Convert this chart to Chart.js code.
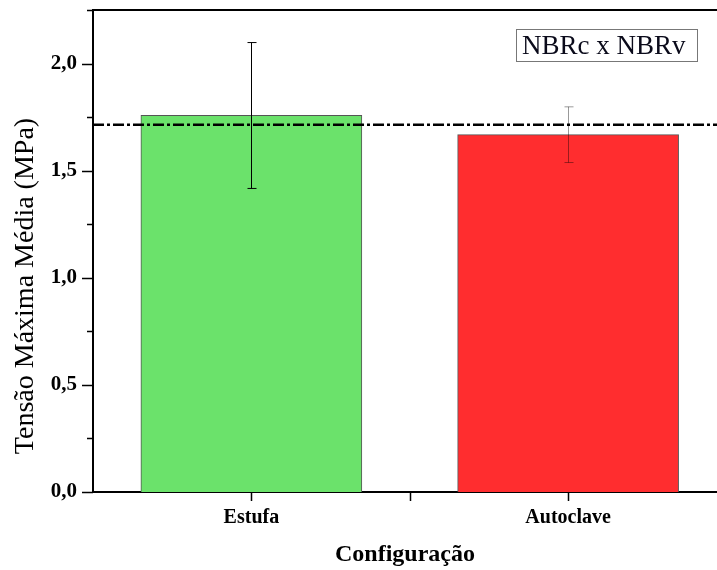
<!DOCTYPE html>
<html>
<head>
<meta charset="utf-8">
<script src="https://cdn.jsdelivr.net/npm/chart.js@4.4.1/dist/chart.umd.min.js"></script>
<style>
  html, body { margin: 0; padding: 0; background: #fff; }
  canvas { display: block; }
</style>
</head>
<body>
<canvas id="myChart" width="717" height="570"></canvas>
<script>
// data
var categories = ['Estufa', 'Autoclave'];
var positions = [1, 2];
var meanValues = [1.758, 1.668];
var errLow = [1.417, 1.538];
var errHigh = [2.098, 1.798];
var referenceLine = 1.714;
var yTicks = [0, 0.5, 1.0, 1.5, 2.0];

var serif = '"Liberation Serif", "DejaVu Serif", serif';

var fmt = function(v) { return v.toFixed(1).replace('.', ','); };

// error bars, minor ticks, top frame and the little label box
var extras = {
    id: 'extras',
    afterDatasetsDraw: function(chart) {
        var ctx = chart.ctx;
        var x = chart.scales.x, y = chart.scales.y;
        var errColors = ['#000', 'rgba(0,0,0,0.4)'];
        ctx.save();
        ctx.lineWidth = 1;
        for (var i = 0; i < positions.length; i++) {
            var px = Math.round(x.getPixelForValue(positions[i])) + 0.5;
            var yl = y.getPixelForValue(errLow[i]);
            var yh = y.getPixelForValue(errHigh[i]);
            ctx.strokeStyle = errColors[i];
            ctx.beginPath();
            ctx.moveTo(px, yl); ctx.lineTo(px, yh);
            ctx.moveTo(px - 4, yl); ctx.lineTo(px + 5, yl);
            ctx.moveTo(px - 4, yh); ctx.lineTo(px + 5, yh);
            ctx.stroke();
        }
        ctx.restore();
    },
    afterDraw: function(chart) {
        var ctx = chart.ctx;
        var a = chart.chartArea;
        var x = chart.scales.x, y = chart.scales.y;
        ctx.save();
        ctx.strokeStyle = '#000';
        ctx.lineWidth = 2;
        // top frame
        ctx.beginPath();
        ctx.moveTo(a.left - 1, a.top); ctx.lineTo(a.right, a.top);
        ctx.stroke();
        // y ticks, major and minor
        ctx.lineWidth = 1.5;
        ctx.beginPath();
        for (var v = 0; v <= 2.25 + 1e-9; v += 0.25) {
            var py = Math.round(y.getPixelForValue(v)) + 0.5;
            var major = Math.abs(v * 2 - Math.round(v * 2)) < 1e-6;
            ctx.moveTo(a.left - (major ? 11 : 6), py);
            ctx.lineTo(a.left, py);
        }
        // x ticks
        [1, 1.5, 2].forEach(function(t) {
            var px = Math.round(x.getPixelForValue(t)) + 0.5;
            ctx.moveTo(px, a.bottom);
            ctx.lineTo(px, a.bottom + 9);
        });
        ctx.stroke();

        // y title
        ctx.fillStyle = '#000';
        ctx.font = '28px ' + serif;
        ctx.textAlign = 'center';
        ctx.textBaseline = 'middle';
        ctx.translate(26, 286);
        ctx.rotate(-Math.PI / 2);
        ctx.fillText('Tensão Máxima Média (MPa)', 0, 0);
        ctx.restore();

        // label box
        ctx.save();
        ctx.fillStyle = '#fff';
        ctx.fillRect(516, 29, 181, 32);
        ctx.strokeStyle = '#777';
        ctx.lineWidth = 1;
        ctx.strokeRect(516.5, 29.5, 181, 32);
        ctx.fillStyle = '#0a0a1a';
        ctx.font = '27px ' + serif;
        ctx.textAlign = 'left';
        ctx.textBaseline = 'alphabetic';
        ctx.fillText('NBRc x NBRv', 522, 54);
        ctx.restore();
    }
};

var ctx = document.getElementById('myChart').getContext('2d');
var myChart = new Chart(ctx, {
    type: 'bar',
    data: {
        datasets: [
            {
                type: 'line',
                data: [{x: 0.5, y: referenceLine}, {x: 2.47, y: referenceLine}],
                borderColor: '#000',
                borderWidth: 2.5,
                borderDash: [11, 3, 3, 3],
                pointRadius: 0,
                fill: false,
                order: 0
            },
            {
                type: 'bar',
                data: positions.map(function(p, i) { return {x: p, y: meanValues[i]}; }),
                backgroundColor: ['#6be26b', '#ff2d2f'],
                borderColor: '#555',
                borderWidth: 1,
                barThickness: 221,
                order: 1
            }
        ]
    },
    options: {
        responsive: false,
        animation: false,
        devicePixelRatio: 1,
        layout: { padding: { top: 10, right: 0, left: 0, bottom: 0 } },
        plugins: { legend: { display: false }, tooltip: { enabled: false } },
        scales: {
            x: {
                type: 'linear',
                min: 0.5,
                max: 2.47,
                offset: false,
                grid: { display: false, drawTicks: false },
                border: { display: true, color: '#000', width: 2 },
                afterBuildTicks: function(scale) {
                    scale.ticks = [{value: 1}, {value: 1.5}, {value: 2}];
                },
                afterFit: function(scale) {
                    scale.height = 78;
                    scale.paddingLeft = 0;
                    scale.paddingRight = 0;
                },
                ticks: {
                    autoSkip: false,
                    maxRotation: 0,
                    padding: 14,
                    color: '#000',
                    font: { family: serif, size: 20, weight: 'bold' },
                    callback: function(v) {
                        var i = positions.indexOf(v);
                        return i >= 0 ? categories[i] : '';
                    }
                },
                title: {
                    display: true,
                    text: 'Configuração',
                    color: '#000',
                    font: { family: serif, size: 24, weight: 'bold' },
                    padding: { top: 0, bottom: 1 }
                }
            },
            y: {
                min: 0,
                max: 2.25,
                grid: { display: false, drawTicks: false },
                border: { display: true, color: '#000', width: 2 },
                afterBuildTicks: function(scale) {
                    scale.ticks = yTicks.map(function(v) { return {value: v}; });
                },
                afterFit: function(scale) {
                    scale.width = 93;
                    scale.paddingTop = 0;
                    scale.paddingBottom = 0;
                },
                ticks: {
                    padding: 16,
                    color: '#000',
                    font: { family: serif, size: 21, weight: 'bold' },
                    callback: function(v) { return fmt(v); }
                }
            }
        }
    },
    plugins: [extras]
});
</script>
</body>
</html>
